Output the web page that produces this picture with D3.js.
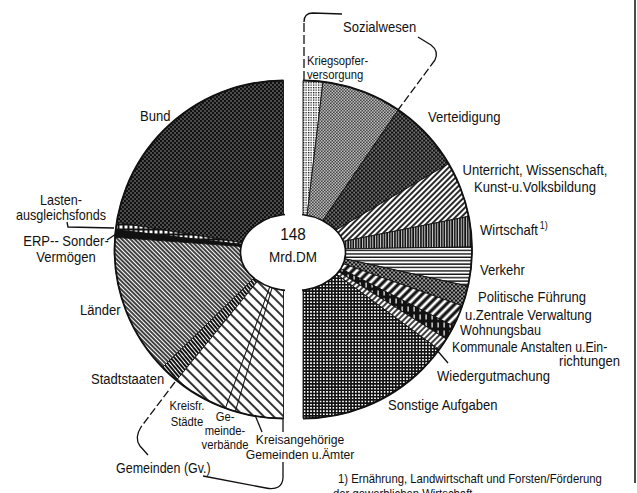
<!DOCTYPE html>
<html><head><meta charset="utf-8">
<script src="https://cdn.jsdelivr.net/npm/d3@7"></script>
<style>
body{margin:0;background:#fff}
svg{display:block}
text{font-family:"Liberation Sans",Arial,sans-serif;fill:#111}
</style></head><body>
<svg id="chart" width="637" height="493"></svg>
<script>
// Haushalt 148 Mrd. DM: links nach Körperschaften, rechts nach Aufgaben
const leftNames = ["Bund","Lastenausgleichsfonds","ERP-Sondervermögen","Länder","Stadtstaaten","Kreisfreie Städte","Gemeindeverbände","Kreisangehörige Gemeinden u. Ämter"];
const leftValues = [66.4, 2.1, 2.1, 39.8, 5.3, 15.8, 2.9, 13.6];
const leftPatterns = ["bund","lasten","erp","laender","stadt","kreis","kreis","kreis"];

const rightNames = ["Kriegsopferversorgung","Sozialwesen","Verteidigung","Unterricht, Wissenschaft, Kunst u. Volksbildung","Wirtschaft","Verkehr","Politische Führung u. Zentrale Verwaltung","Wohnungsbau","Kommunale Anstalten u. Einrichtungen","Wiedergutmachung","Sonstige Aufgaben"];
const rightValues = [5.6, 22.6, 20.7, 15.8, 8.6, 11.0, 5.7, 6.2, 4.1, 3.6, 44.1];
const rightPatterns = ["kriegs","sozial","verteid","unterricht","wirtschaft","verkehr","polit","wohn","kommunal","wieder","sonst"];

const total = "148", unit = "Mrd.DM";

const svg = d3.select("#chart");
const R = 169;
const leftC = [283.5, 249.5], rightC = [303, 249.5];

const defs = svg.append("defs");
function pattern(id, w, h, bg, rot) {
  const p = defs.append("pattern").attr("id", "p-" + id)
    .attr("patternUnits", "userSpaceOnUse").attr("width", w).attr("height", h);
  if (rot) p.attr("patternTransform", "rotate(" + rot + ")");
  p.append("rect").attr("width", w).attr("height", h).attr("fill", bg);
  return p;
}
let p;
p = pattern("bund", 4, 4, "#111");
p.append("rect").attr("x", 1).attr("y", 1).attr("width", 1).attr("height", 1).attr("fill", "#fff");
p.append("rect").attr("x", 3).attr("y", 3).attr("width", 1).attr("height", 1).attr("fill", "#fff");
p = pattern("lasten", 5, 5, "#111");
p.append("rect").attr("x", 1).attr("y", 1).attr("width", 3).attr("height", 3).attr("fill", "#fff");
p = pattern("erp", 4, 4, "#111");
p = pattern("laender", 3, 3, "#fff", -45);
p.append("line").attr("x1", 1).attr("x2", 1).attr("y1", 0).attr("y2", 3).attr("stroke", "#111").attr("stroke-width", 1.6);
p = pattern("stadt", 3, 3, "#111", -40);
p.append("line").attr("x1", 1.5).attr("x2", 1.5).attr("y1", 0).attr("y2", 3).attr("stroke", "#fff").attr("stroke-width", 1);
p = pattern("kreis", 7, 7, "#fff", -45);
p.append("line").attr("x1", 1).attr("x2", 1).attr("y1", 0).attr("y2", 7).attr("stroke", "#111").attr("stroke-width", 1.7);
p = pattern("kriegs", 2.5, 2.5, "#fff");
p.append("rect").attr("width", 1.3).attr("height", 1.3).attr("fill", "#111");
p = pattern("sozial", 3, 3, "#fff");
p.append("rect").attr("width", 1.6).attr("height", 1.6).attr("fill", "#111");
p.append("rect").attr("x", 1.5).attr("y", 1.5).attr("width", 1.6).attr("height", 1.6).attr("fill", "#111");
p = pattern("verteid", 4, 4, "#111");
p.append("rect").attr("x", 0.5).attr("y", 0.5).attr("width", 1.2).attr("height", 1.2).attr("fill", "#fff");
p.append("rect").attr("x", 2.5).attr("y", 2.5).attr("width", 1.2).attr("height", 1.2).attr("fill", "#fff");
p = pattern("unterricht", 4, 4, "#fff", 45);
p.append("line").attr("x1", 1).attr("x2", 1).attr("y1", 0).attr("y2", 4).attr("stroke", "#111").attr("stroke-width", 1.8);
p = pattern("wirtschaft", 2.6, 2.6, "#fff");
p.append("line").attr("x1", 1).attr("x2", 1).attr("y1", 0).attr("y2", 2.6).attr("stroke", "#111").attr("stroke-width", 1.8);
p = pattern("verkehr", 3.4, 3.4, "#fff");
p.append("line").attr("y1", 1).attr("y2", 1).attr("x1", 0).attr("x2", 3.4).attr("stroke", "#111").attr("stroke-width", 1.4);
p = pattern("polit", 4, 4, "#111");
p.append("rect").attr("x", 0.3).attr("y", 0.3).attr("width", 1.5).attr("height", 1.5).attr("fill", "#fff");
p.append("rect").attr("x", 2.3).attr("y", 2.3).attr("width", 1.5).attr("height", 1.5).attr("fill", "#fff");
p = pattern("wohn", 6, 6, "#fff", 45);
p.append("line").attr("x1", 2).attr("x2", 2).attr("y1", 0).attr("y2", 6).attr("stroke", "#111").attr("stroke-width", 3.2);
p = pattern("kommunal", 6, 8, "#111");
p.append("rect").attr("x", 2.5).attr("y", 1).attr("width", 1.2).attr("height", 5).attr("fill", "#fff");
p = pattern("wieder", 4, 4, "#fff", 45);
p.append("line").attr("x1", 1).attr("x2", 1).attr("y1", 0).attr("y2", 4).attr("stroke", "#111").attr("stroke-width", 1.6);
p = pattern("sonst", 3.2, 3.2, "#111");
p.append("rect").attr("x", 0.8).attr("y", 0.8).attr("width", 1.6).attr("height", 1.6).attr("fill", "#fff");

const arc = d3.arc().innerRadius(0).outerRadius(R);

function half(values, pats, center, endAngle) {
  const pie = d3.pie().sort(null).startAngle(0).endAngle(endAngle);
  const g = svg.append("g").attr("transform", "translate(" + center + ")");
  g.selectAll("path").data(pie(values)).enter().append("path")
    .attr("d", arc)
    .attr("fill", (d, i) => "url(#p-" + pats[i] + ")")
    .attr("stroke", "#111").attr("stroke-width", 0.9);
  // outer rim
  g.append("path")
    .attr("d", d3.arc().innerRadius(R).outerRadius(R)({startAngle: 0, endAngle: endAngle}))
    .attr("fill", "none").attr("stroke", "#111").attr("stroke-width", 1.8);
}
half(leftValues, leftPatterns, leftC, -Math.PI);
half(rightValues, rightPatterns, rightC, Math.PI);

// centre
svg.append("ellipse").attr("cx", 293).attr("cy", 252.5).attr("rx", 52.5).attr("ry", 38.5)
  .attr("fill", "#fff").attr("stroke", "#111").attr("stroke-width", 1.6);
svg.append("rect").attr("x", 285).attr("y", 205).attr("width", 17).attr("height", 95).attr("fill", "#fff");

// text helper: condensed look via horizontal squeeze
const K = 0.9;
function label(lines, x, y, opt) {
  opt = opt || {};
  const g = svg.append("g").attr("transform", "translate(" + x + "," + y + ") scale(" + (opt.k || K) + ",1)");
  lines.forEach((line, i) => {
    g.append("text").attr("y", i * (opt.dy || 14))
      .attr("text-anchor", opt.a || "start")
      .attr("font-size", opt.s || 14.5).text(line);
  });
  return g;
}
label([total], 293, 240, {a: "middle", s: 17});
label([unit], 293, 262, {a: "middle", s: 15});

label(["Bund"], 140, 121);
label(["Lasten-", "ausgleichsfonds"], 61, 205, {a: "middle", dy: 15, s: 14});
label(["ERP-- Sonder-", "Vermögen"], 66, 246, {a: "middle", dy: 16});
label(["Länder"], 80, 315);
label(["Stadtstaaten"], 91, 384);
label(["Kreisfr.", "Städte"], 187, 410, {a: "middle", dy: 16, s: 12.5});
label(["Ge-", "meinde-", "verbände"], 225, 421, {a: "middle", dy: 14, s: 12.5});
label(["Kreisangehörige", "Gemeinden u.Ämter"], 300, 444, {a: "middle", dy: 15, s: 13.5});
label(["Gemeinden (Gv.)"], 116, 473, {s: 14.5, k: 0.86});
label(["Sozialwesen"], 343, 32);
label(["Kriegsopfer-", "versorgung"], 307, 65, {dy: 14, s: 12.5});
label(["Verteidigung"], 428, 122);
label(["Unterricht, Wissenschaft,", "Kunst-u.Volksbildung"], 535, 175, {a: "middle", dy: 17});
const w = label(["Wirtschaft"], 480, 235).select("text");
w.append("tspan").attr("dy", -6).attr("dx", 2).attr("font-size", 10).text("1)");
label(["Verkehr"], 480, 275);
label(["Politische Führung"], 478, 302);
label(["u.Zentrale Verwaltung"], 465, 320);
label(["Wohnungsbau"], 460, 335, {s: 14});
label(["Kommunale Anstalten u.Ein-"], 452, 352, {k: 0.85});
label(["richtungen"], 620, 366, {a: "end"});
label(["Wiedergutmachung"], 437, 381);
label(["Sonstige Aufgaben"], 388, 410);
label(["1) Ernährung, Landwirtschaft und Forsten/Förderung"], 338, 483, {s: 13, k: 0.87});
label(["der gewerblichen Wirtschaft"], 333, 498, {s: 13, k: 0.87});

// leader lines and brackets
const ink = (d, dash) => svg.append("path").attr("d", d).attr("fill", "none")
  .attr("stroke", "#111").attr("stroke-width", 1.3).attr("stroke-dasharray", dash || null);
ink("M67,222 L68,227 L114,228");
ink("M107,240 L116,234");
ink("M262,432 L255,415");
ink("M448,363 L436,349");
// Gemeinden (Gv.)
ink("M175,382 L141,427", "8,3");
ink("M141,427 Q134,438 140,446 L148,455");
ink("M203,476 L266,488 Q282,491 283,478 L283,462");
ink("M283,418 L283,432");
// Sozialwesen
ink("M304,80 L304,22", "9,3");
ink("M304,22 Q304,13 313,13 L342,14");
ink("M418,37 L431,45 Q439,51 435,60");
ink("M435,60 L398,110", "8,3");

// page edge
svg.append("line").attr("x1", 635).attr("x2", 635).attr("y1", 0).attr("y2", 483)
  .attr("stroke", "#111").attr("stroke-width", 1.5);
</script>
</body></html>
